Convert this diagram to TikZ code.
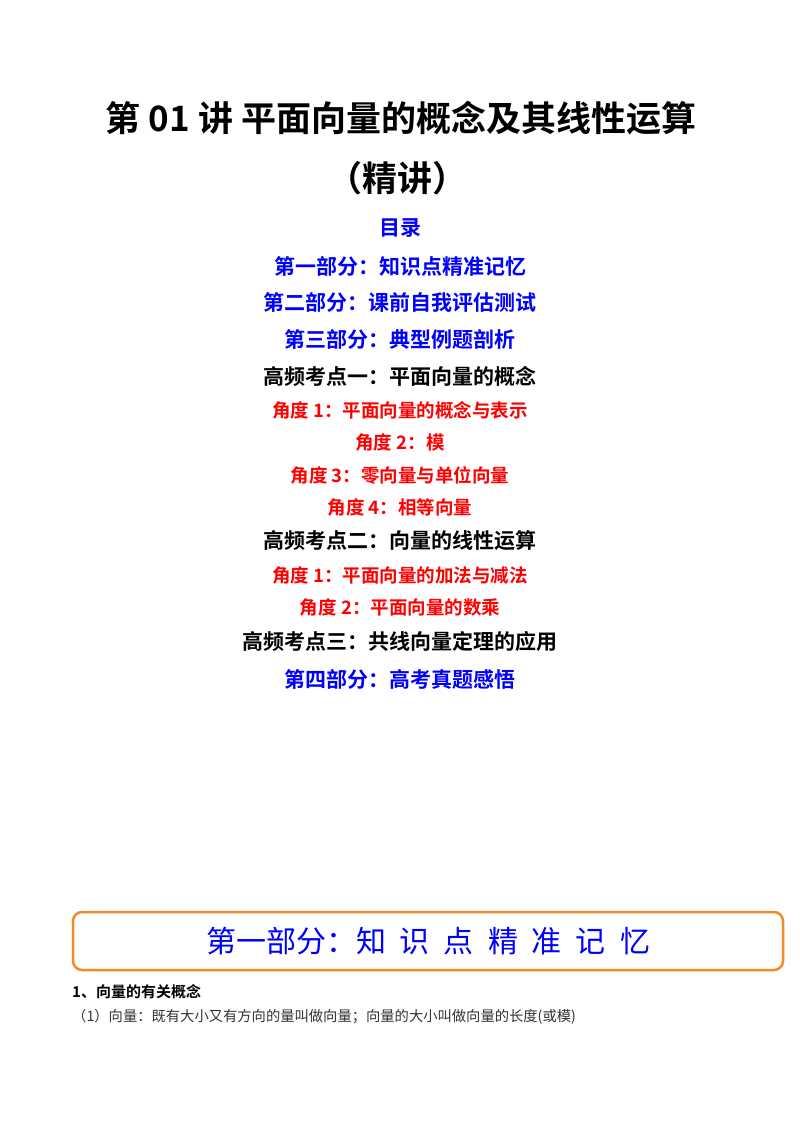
\documentclass[tikz,border=0pt]{standalone}
\usepackage{fontspec}
\setmainfont{Liberation Serif}
\newfontfamily\cjk{Noto Sans CJK SC}
\newfontfamily\cjkb{Noto Sans CJK SC}[BoldFont={* Bold}]
\definecolor{tblue}{RGB}{0,0,255}
\definecolor{tred}{RGB}{255,0,0}
\definecolor{borange}{RGB}{240,140,40}
\tikzset{
 ln/.style={anchor=center,inner sep=0pt,font=\cjkb\bfseries\fontsize{21}{23}\selectfont},
 bl/.style={ln,text=tblue},
 rd/.style={ln,text=tred,font=\cjkb\bfseries\fontsize{18.5}{20}\selectfont},
 bk/.style={ln,text=black}
}
\begin{document}
\begin{tikzpicture}[x=1pt,y=-1pt]
\useasboundingbox[fill=white] (0,0) rectangle (800,1132);
\node[bk,font=\cjkb\bfseries\fontsize{35}{38}\selectfont] (t1) at (401,118) {第 01 讲\ 平面向量的概念及其线性运算};
\node[bk,font=\cjkb\bfseries\fontsize{35}{38}\selectfont] (t2) at (397,178) {（精讲）};
\node[bl] (m0) at (400,228) {目录};
\node[bl] (m1) at (400,266) {第一部分：知识点精准记忆};
\node[bl] (m2) at (400,302) {第二部分：课前自我评估测试};
\node[bl] (m3) at (400,339) {第三部分：典型例题剖析};
\node[bk] (k1) at (400,376) {高频考点一：平面向量的概念};
\node[rd] (a1) at (400,410) {角度 1：平面向量的概念与表示};
\node[rd] (a2) at (400,442) {角度 2：模};
\node[rd] (a3) at (400,475) {角度 3：零向量与单位向量};
\node[rd] (a4) at (400,507) {角度 4：相等向量};
\node[bk] (k2) at (400,541) {高频考点二：向量的线性运算};
\node[rd] (b1) at (400,575) {角度 1：平面向量的加法与减法};
\node[rd] (b2) at (400,607) {角度 2：平面向量的数乘};
\node[bk] (k3) at (400,641) {高频考点三：共线向量定理的应用};
\node[bl] (m4) at (400,679) {第四部分：高考真题感悟};
\draw[borange,line width=2.5pt,rounded corners=9pt] (73,912) rectangle (783,970);
\node[anchor=center,text=tblue,font=\cjk\fontsize{30}{32}\selectfont] (box) at (428,941) {第一部分：知\hspace{14pt}识\hspace{14pt}点\hspace{14pt}精\hspace{14pt}准\hspace{14pt}记\hspace{14pt}忆};
\node[anchor=west,inner sep=0pt,font=\cjkb\bfseries\fontsize{15}{17}\selectfont] (s1) at (72,992) {1、向量的有关概念};
\node[anchor=west,inner sep=0pt,text=black!80,font=\cjk\fontsize{14.3}{16}\selectfont] (s2) at (72,1017) {（1）向量：既有大小又有方向的量叫做向量；向量的大小叫做向量的长度(或模)};
\end{tikzpicture}
\end{document}
